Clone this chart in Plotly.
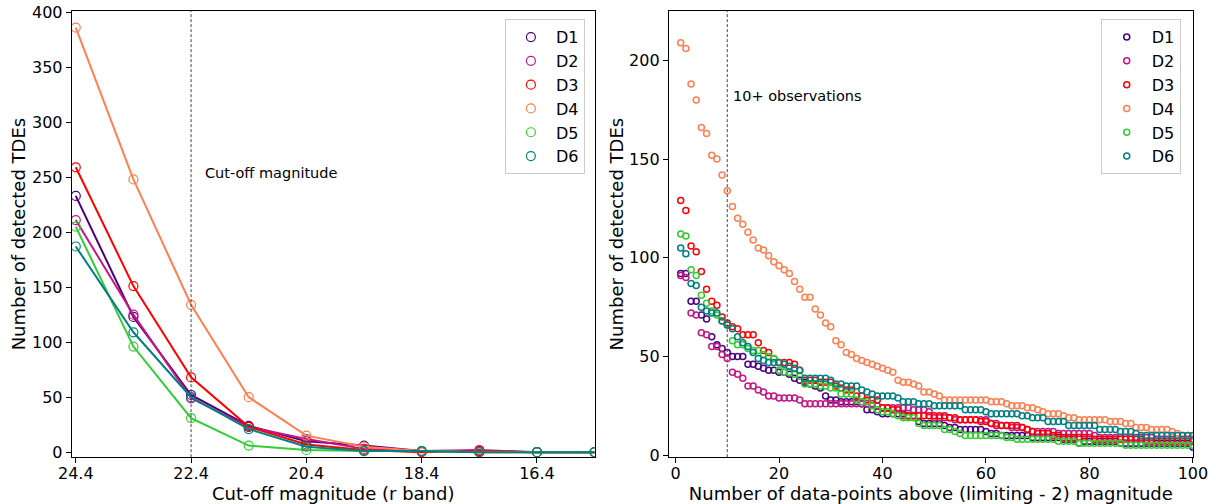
import plotly.graph_objects as go

# ---------------- data ----------------
series_names = ["D1", "D2", "D3", "D4", "D5", "D6"]
colors = ["#4B0082", "#C71585", "#FF0000", "#FF7F50", "#32CD32", "#008080"]

# Left panel: cut-off magnitude (r band)
cutoff_mag = [24.4, 23.4, 22.4, 21.4, 20.4, 19.4, 18.4, 17.4, 16.4, 15.4]
left_D1 = [233, 123, 52, 24, 10, 6, 1, 1, 0, 0]
left_D2 = [211, 125, 49, 23, 12, 3, 1, 2, 0, 0]
left_D3 = [259, 151, 68, 23, 7, 2, 0, 1, 0, 0]
left_D4 = [386, 248, 134, 50, 15, 5, 1, 0, 0, 0]
left_D5 = [205, 96, 31, 6, 2, 1, 1, 0, 0, 0]
left_D6 = [187, 109, 50, 21, 5, 1, 1, 0, 0, 0]

left_tick_vals = [24.4, 22.4, 20.4, 18.4, 16.4]
left_tick_text = ["24.4", "22.4", "20.4", "18.4", "16.4"]
cutoff_line = 22.4

# Right panel: number of data points above (limiting - 2) magnitude
n_points = list(range(1, 101))
right_D1 = [92, 92, 78, 78, 71, 69, 60, 56, 54, 52,
            50, 50, 50, 46, 46, 45, 44, 43, 43, 42,
            42, 41, 39, 38, 37, 36, 35, 34, 30, 28,
            28, 27, 27, 27, 27, 26, 23, 23, 22, 21,
            21, 21, 21, 21, 20, 20, 17, 16, 16, 16,
            16, 15, 14, 14, 13, 13, 13, 13, 13, 12,
            11, 11, 10, 10, 10, 10, 10, 10, 9, 9,
            9, 9, 9, 9, 8, 8, 8, 6, 7, 7,
            7, 7, 7, 7, 7, 6, 6, 6, 6, 6,
            6, 6, 6, 6, 6, 6, 6, 6, 6, 4]
right_D2 = [91, 90, 72, 71, 62, 61, 55, 55, 51, 49,
            42, 41, 39, 35, 35, 33, 32, 30, 30, 29,
            29, 29, 29, 28, 26, 26, 26, 26, 26, 26,
            26, 26, 26, 26, 26, 26, 26, 26, 25, 24,
            24, 24, 24, 24, 24, 23, 23, 23, 22, 19,
            19, 19, 19, 18, 18, 18, 18, 18, 18, 18,
            16, 16, 15, 15, 14, 14, 14, 13, 12, 12,
            12, 12, 12, 11, 11, 11, 11, 11, 11, 11,
            10, 9, 9, 9, 9, 9, 9, 9, 9, 9,
            9, 9, 8, 8, 8, 8, 8, 8, 8, 8]
right_D3 = [129, 124, 106, 103, 93, 84, 78, 76, 70, 67,
            65, 64, 61, 61, 61, 57, 53, 52, 49, 47,
            47, 47, 46, 43, 38, 38, 38, 37, 37, 37,
            35, 34, 33, 33, 30, 30, 28, 28, 28, 24,
            24, 23, 23, 20, 20, 20, 20, 20, 20, 20,
            20, 20, 19, 19, 18, 18, 18, 18, 17, 17,
            16, 15, 15, 15, 15, 15, 14, 13, 12, 11,
            11, 11, 10, 10, 9, 9, 9, 9, 9, 9,
            8, 8, 8, 8, 8, 8, 8, 8, 8, 8,
            7, 7, 7, 7, 7, 7, 7, 7, 7, 7]
right_D4 = [209, 206, 188, 180, 166, 163, 152, 150, 142, 134,
            126, 120, 117, 113, 109, 105, 104, 101, 98, 96,
            94, 92, 88, 84, 80, 80, 74, 71, 67, 65,
            58, 56, 52, 51, 49, 48, 47, 46, 45, 44,
            43, 42, 38, 37, 37, 36, 35, 32, 32, 31,
            30, 28, 28, 28, 28, 28, 28, 28, 28, 28,
            27, 27, 27, 26, 25, 25, 25, 24, 24, 23,
            22, 21, 21, 21, 20, 19, 19, 18, 18, 18,
            18, 18, 18, 17, 17, 17, 16, 16, 14, 14,
            14, 13, 13, 13, 13, 12, 11, 10, 10, 10]
right_D5 = [112, 111, 94, 91, 81, 77, 73, 71, 68, 66,
            58, 56, 56, 54, 53, 53, 51, 50, 49, 43,
            42, 42, 41, 40, 36, 36, 36, 35, 35, 34,
            34, 31, 31, 31, 28, 27, 27, 25, 23, 22,
            22, 21, 20, 19, 19, 19, 16, 15, 15, 15,
            15, 13, 13, 12, 11, 10, 10, 10, 10, 10,
            10, 10, 10, 9, 9, 8, 8, 8, 8, 8,
            8, 8, 8, 7, 7, 7, 7, 6, 6, 6,
            6, 6, 6, 6, 6, 6, 5, 5, 5, 5,
            5, 5, 5, 5, 5, 5, 5, 5, 5, 5]
right_D6 = [105, 102, 87, 86, 75, 73, 72, 72, 68, 66,
            64, 60, 57, 55, 52, 49, 48, 47, 47, 47,
            46, 45, 44, 43, 39, 39, 39, 39, 39, 38,
            36, 36, 35, 35, 35, 33, 32, 31, 30, 30,
            30, 30, 29, 27, 27, 27, 26, 26, 26, 25,
            25, 25, 25, 25, 25, 23, 23, 23, 23, 22,
            21, 21, 21, 21, 21, 21, 20, 20, 19, 19,
            19, 17, 17, 17, 17, 15, 15, 15, 15, 15,
            15, 13, 13, 13, 13, 12, 12, 12, 11, 10,
            10, 10, 10, 10, 10, 10, 10, 10, 10, 10]

right_tick_vals = [0, 20, 40, 60, 80, 100]
obs_line = 10

left_series = [left_D1, left_D2, left_D3, left_D4, left_D5, left_D6]
right_series = [right_D1, right_D2, right_D3, right_D4, right_D5, right_D6]

# ---------------- figure ----------------
FONT = "DejaVu Sans"
fig = go.Figure()

for name, col, ys in zip(series_names, colors, left_series):
    fig.add_trace(go.Scatter(
        x=cutoff_mag, y=ys, mode="lines", line=dict(color=col, width=2),
        showlegend=False, hoverinfo="skip", xaxis="x", yaxis="y"))
    fig.add_trace(go.Scatter(
        x=cutoff_mag, y=ys, mode="markers", name=name,
        marker=dict(symbol="circle-open", size=9, color=col, line=dict(width=1.2, color=col)),
        legend="legend", xaxis="x", yaxis="y"))

for name, col, ys in zip(series_names, colors, right_series):
    fig.add_trace(go.Scatter(
        x=n_points, y=ys, mode="markers", name=name,
        marker=dict(symbol="circle-open", size=6, color=col, line=dict(width=1.5, color=col)),
        legend="legend2", xaxis="x2", yaxis="y2"))

axis_common = dict(
    showline=True, linecolor="black", linewidth=1, mirror=True,
    ticks="outside", ticklen=5, tickwidth=1, tickcolor="black",
    showgrid=False, zeroline=False, automargin=False,
    tickfont=dict(family=FONT, size=16, color="black"),
)
title_font = dict(family=FONT, size=18, color="black")

fig.update_layout(
    width=1216, height=504,
    margin=dict(l=0, r=0, t=0, b=0),
    paper_bgcolor="white", plot_bgcolor="white",
    font=dict(family=FONT, color="black"),
    xaxis=dict(domain=[0.059, 0.489], range=[24.47, 15.4], anchor="y",
               tickvals=left_tick_vals, ticktext=left_tick_text, ticklabelstandoff=-3,
               title=dict(text="Cut-off magnitude (r band)", font=title_font, standoff=2),
               **axis_common),
    yaxis=dict(domain=[0.093, 0.978], range=[-4.5, 401], anchor="x",
               dtick=50,
               title=dict(text="Number of detected TDEs", font=title_font, standoff=1),
               **axis_common),
    xaxis2=dict(domain=[0.550, 0.981], range=[-1.3, 100], anchor="y2",
                tickvals=right_tick_vals, ticklabelstandoff=-3,
                title=dict(text="Number of data-points above (limiting - 2) magnitude", font=title_font, standoff=2),
                **axis_common),
    yaxis2=dict(domain=[0.093, 0.978], range=[-1, 225], anchor="x2",
                dtick=50,
                title=dict(text="Number of detected TDEs", font=title_font, standoff=0),
                **axis_common),
    legend=dict(x=0.481, y=0.962, xanchor="right", yanchor="top", itemwidth=40,
                bgcolor="rgba(255,255,255,0.8)", bordercolor="#cccccc", borderwidth=1,
                font=dict(family=FONT, size=16, color="black")),
    legend2=dict(x=0.971, y=0.962, xanchor="right", yanchor="top", itemwidth=40,
                 bgcolor="rgba(255,255,255,0.8)", bordercolor="#cccccc", borderwidth=1,
                 font=dict(family=FONT, size=16, color="black")),
    shapes=[
        dict(type="line", xref="x", yref="y domain", x0=cutoff_line, x1=cutoff_line, y0=0, y1=1,
             line=dict(color="#444444", width=1, dash="3px,2px")),
        dict(type="line", xref="x2", yref="y2 domain", x0=obs_line, x1=obs_line, y0=0, y1=1,
             line=dict(color="#444444", width=1, dash="3px,2px")),
    ],
    annotations=[
        dict(text="Cut-off magnitude", xref="x", yref="y", x=22.2, y=254,
             xanchor="left", yanchor="middle", showarrow=False,
             font=dict(family=FONT, size=14.5, color="black")),
        dict(text="10+ observations", xref="x2", yref="y2", x=10.7, y=182,
             xanchor="left", yanchor="middle", showarrow=False,
             font=dict(family=FONT, size=14.5, color="black")),
    ],
)

fig.write_html("out.html", config={"displayModeBar": False},
               post_script="document.body.style.margin='0px';document.body.style.overflow='hidden';")
